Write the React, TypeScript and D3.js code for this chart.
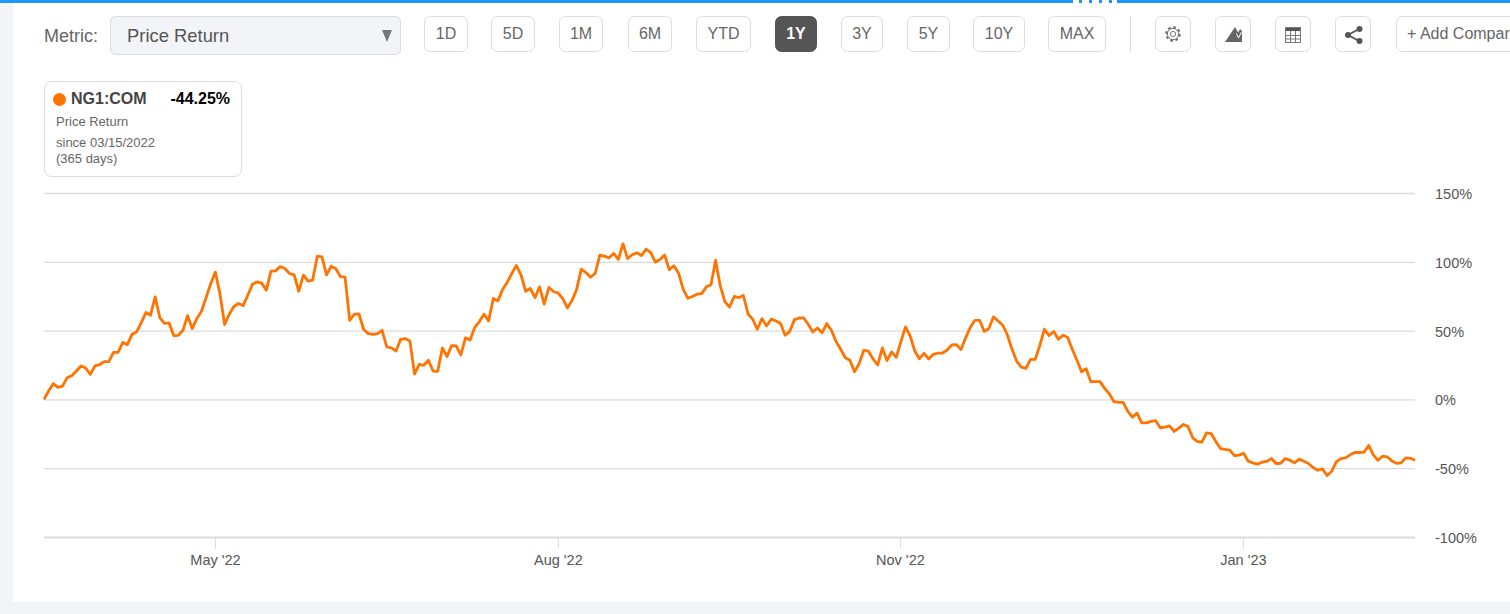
import { useEffect, useRef } from "react";
import * as d3 from "d3";

// Values, in percent, one per plotted point
const priceReturn = [
    0, 6.1, 11.4, 8.7, 9.7, 15.8, 17.2, 20.6, 24.3, 22.8, 18.2, 24.3, 25.2, 27.4, 27.4, 34.2, 34.2, 41.3, 39.8, 47.3,
    49.0, 55.8, 63.1, 61.2, 74.5, 59.5, 55.3, 55.6, 46.4, 46.6, 50.2, 60.9, 51.5, 58.7, 64.1, 74.0, 84.2, 92.5, 76.5, 54.4,
    61.9, 67.5, 69.7, 68.2, 75.7, 83.7, 85.4, 84.5, 79.4, 93.2, 93.4, 96.6, 95.1, 91.5, 90.5, 78.6, 90.3, 85.9, 86.7, 104.1,
    103.6, 90.5, 96.8, 94.9, 89.3, 88.8, 57.5, 61.9, 62.1, 51.0, 47.8, 47.3, 47.8,
    50.2, 38.1, 37.4, 35.2, 43.7, 44.2, 42.5, 18.4, 25.5, 24.8, 28.4, 20.6, 20.4, 37.4, 31.1, 39.1, 38.8, 32.3, 44.7, 43.2,
    52.4, 56.6, 61.9, 57.0, 73.3, 71.6, 79.9, 85.0, 91.5, 97.3, 90.3, 78.6, 80.6, 74.0, 81.8, 69.2, 81.3, 78.4, 77.2, 73.3,
    66.5, 71.8, 80.1, 94.7, 92.2, 88.8, 91.5, 104.9, 104.1, 102.9, 106.1, 101.7, 113.1, 102.4, 105.1, 106.6, 104.6, 109.2,
    106.6, 99.8, 101.7, 104.9, 94.2, 97.1, 91.7, 80.1, 73.5, 74.8, 76.5, 76.9, 81.8, 83.3, 101.2,
    82.5, 71.1, 67.0, 74.8, 74.0, 75.5, 62.1, 58.3, 51.0, 58.7, 53.4, 58.3, 57.0, 55.3, 46.6, 49.3, 57.8, 59.2, 59.2, 54.6,
    49.0, 51.9, 48.5, 55.1, 50.2, 42.2, 36.4, 30.3, 28.4, 20.1, 26.2, 35.7, 35.0, 29.4, 25.0, 37.4, 28.2, 34.5, 30.6, 42.0,
    52.7, 46.1, 35.2, 29.6, 33.5, 29.4, 32.8, 33.7, 33.7, 35.9, 39.6, 39.8, 36.2, 44.9, 52.4, 57.5, 57.5, 49.3, 51.5, 60.0,
    57.0, 53.9, 46.8, 36.4, 27.7, 23.5, 22.6, 29.1, 29.1, 39.3, 51.0, 46.4, 49.3, 43.7, 46.6, 45.2,
    36.4, 28.6, 20.1, 22.3, 12.9, 12.9, 12.9, 8.0, 4.1, -1.7, -2.2, -2.2, -8.7, -12.9, -10.0, -17.0, -17.0, -16.0, -15.5,
    -20.6, -20.1, -19.2, -23.3, -20.9, -18.2, -19.7, -27.9, -30.6, -31.1, -24.3, -24.8, -30.6, -35.7, -36.4, -36.9, -40.8,
    -40.5, -39.1, -44.9, -46.1, -47.1, -45.6, -45.1, -43.0, -46.6, -46.4, -43.0, -44.2, -46.1, -43.4, -44.9, -46.6, -49.5,
    -51.5, -50.5, -55.3, -52.4, -45.4, -43.0, -42.5, -40.3, -38.6, -38.6, -38.3, -33.5, -40.3, -44.2, -41.3, -41.7, -44.7,
    -46.4, -46.1, -42.5, -42.7, -44.25,
];

const xTickLabels = ["May '22", "Aug '22", "Nov '22", "Jan '23"];
const xTickFractions = [0.1247, 0.3748, 0.6243, 0.8745];
const yTicks = [150, 100, 50, 0, -50, -100];

const periods = ["1D", "5D", "1M", "6M", "YTD", "1Y", "3Y", "5Y", "10Y", "MAX"];
const activePeriod = "1Y";

// Toolbar layout, left edge and right edge of each button
const periodEdges: [number, number][] = [
    [424, 468], [491, 535], [559, 603], [628, 672], [696, 751],
    [775, 817], [841, 883], [907, 950], [973, 1025], [1048, 1106],
];
const iconEdges = [1155, 1215, 1275, 1335];

const FONT = "'Liberation Sans', Arial, sans-serif";
const ORANGE = "#ff7300";
const BLUE = "#1e96fc";
const GRID = "#dcdcdc";
const TEXT = "#555555";
const WIDTH = 1510;
const HEIGHT = 614;

export default function App() {
    const svgRef = useRef<SVGSVGElement | null>(null);

    useEffect(() => {
        if (!svgRef.current) return;

        const svg = d3.select(svgRef.current);
        svg.selectAll("*").remove();

        const left = 44;
        const right = 1415;
        const top = 193;
        const bottom = 537;

        const x = d3.scaleLinear().domain([0, priceReturn.length - 1]).range([left, right]);
        const y = d3.scaleLinear().domain([-100, 150]).range([bottom, top]);

        // Page background and panel
        svg.append("rect").attr("width", WIDTH).attr("height", HEIGHT).attr("fill", "#f2f4f8");
        svg.append("rect").attr("x", 13).attr("y", 3).attr("width", WIDTH - 13).attr("height", 599).attr("fill", "#fff");

        // Blue bar at the very top, with the little dashed handle
        svg.append("rect").attr("width", 1073).attr("height", 3).attr("fill", BLUE);
        svg.append("rect").attr("x", 1117).attr("width", WIDTH - 1117).attr("height", 3).attr("fill", BLUE);
        svg.append("rect").attr("x", 1073).attr("width", 44).attr("height", 3).attr("fill", "#fff");
        svg.append("line")
            .attr("x1", 1079).attr("x2", 1115).attr("y1", 1.5).attr("y2", 1.5)
            .attr("stroke", BLUE).attr("stroke-width", 3).attr("stroke-dasharray", "3 7");

        // Metric select
        svg.append("text").attr("x", 44).attr("y", 42).attr("font-size", 18).attr("fill", "#666").attr("font-family", FONT).text("Metric:");
        svg.append("rect").attr("x", 110.5).attr("y", 16.5).attr("width", 290).attr("height", 38).attr("rx", 5)
            .attr("fill", "#f2f4f8").attr("stroke", "#dcdcdc");
        svg.append("text").attr("x", 127).attr("y", 42).attr("font-size", 18.4).attr("fill", TEXT).attr("font-family", FONT).text("Price Return");
        svg.append("path").attr("d", "M382 30H392L387 42Z").attr("fill", "#777");

        // Period buttons
        const buttons = svg.append("g").selectAll("g").data(periods).join("g");
        buttons.append("rect")
            .attr("x", (_, i) => periodEdges[i][0] + 0.5)
            .attr("y", 16.5)
            .attr("width", (_, i) => periodEdges[i][1] - periodEdges[i][0] - 1)
            .attr("height", 35)
            .attr("rx", 6)
            .attr("fill", (d) => (d === activePeriod ? "#555" : "#fff"))
            .attr("stroke", (d) => (d === activePeriod ? "#555" : "#dcdcdc"));
        buttons.append("text")
            .attr("x", (_, i) => (periodEdges[i][0] + periodEdges[i][1]) / 2)
            .attr("y", 39)
            .attr("text-anchor", "middle")
            .attr("font-size", 16)
            .attr("font-family", FONT)
            .attr("font-weight", (d) => (d === activePeriod ? 700 : 400))
            .attr("fill", (d) => (d === activePeriod ? "#fff" : "#666"))
            .text((d) => d);

        svg.append("line").attr("x1", 1130.5).attr("x2", 1130.5).attr("y1", 16).attr("y2", 52).attr("stroke", "#dcdcdc");

        // Icon buttons
        svg.append("g").selectAll("rect").data(iconEdges).join("rect")
            .attr("x", (d) => d + 0.5).attr("y", 16.5).attr("width", 35).attr("height", 35).attr("rx", 6)
            .attr("fill", "#fff").attr("stroke", "#dcdcdc");

        // Gear
        const gear = svg.append("g").attr("transform", "translate(1173,34)").attr("fill", "none").attr("stroke", "#666");
        gear.append("circle").attr("r", 2.6).attr("stroke-width", 0.9);
        gear.append("circle").attr("r", 5.6).attr("stroke-width", 0.9);
        gear.append("circle").attr("r", 6.8).attr("stroke-width", 1.8).attr("stroke-dasharray", "2.7 2.64");

        // Area chart icon
        svg.append("path").attr("d", "M1225 42L1235 27L1240 36L1242 33V42Z").attr("fill", "#666");
        svg.append("path").attr("d", "M1233 42L1240 29L1242 31V42Z").attr("fill", "#666");
        svg.append("path").attr("d", "M1236.5 33.5L1238.5 38L1241.5 32").attr("fill", "none").attr("stroke", "#fff").attr("stroke-width", 1);

        // Table icon
        const table = svg.append("g").attr("transform", "translate(1285,27)");
        table.append("rect").attr("width", 16).attr("height", 4).attr("fill", "#555");
        table.append("rect").attr("x", 0.5).attr("y", 0.5).attr("width", 15).attr("height", 15).attr("fill", "none").attr("stroke", "#777");
        table.append("path").attr("d", "M5.5 4V16M10.5 4V16M0 8.5H16M0 12H16").attr("stroke", "#777").attr("fill", "none");

        // Share icon
        const share = svg.append("g").attr("transform", "translate(1345,26)").attr("fill", "#555");
        share.append("path").attr("d", "M14 3L3 9L14 15").attr("fill", "none").attr("stroke", "#555").attr("stroke-width", 1.8);
        share.append("circle").attr("cx", 14.5).attr("cy", 3).attr("r", 3);
        share.append("circle").attr("cx", 3).attr("cy", 9).attr("r", 3);
        share.append("circle").attr("cx", 14.5).attr("cy", 15).attr("r", 3);

        // Add comparison button runs off the page
        svg.append("rect").attr("x", 1396.5).attr("y", 16.5).attr("width", 160).attr("height", 35).attr("rx", 6)
            .attr("fill", "#fff").attr("stroke", "#dcdcdc");
        svg.append("text").attr("x", 1407).attr("y", 39).attr("font-size", 16).attr("fill", "#666").attr("font-family", FONT).text("+ Add Comparison");

        // Legend card
        const last = priceReturn[priceReturn.length - 1];
        svg.append("rect").attr("x", 44.5).attr("y", 81.5).attr("width", 197).attr("height", 95).attr("rx", 7)
            .attr("fill", "#fff").attr("stroke", "#dcdcdc");
        svg.append("circle").attr("cx", 59.5).attr("cy", 99.5).attr("r", 6.5).attr("fill", ORANGE);
        svg.append("text").attr("x", 71).attr("y", 103.5).attr("font-size", 16).attr("font-weight", 700).attr("fill", "#444").attr("font-family", FONT).text("NG1:COM");
        svg.append("text").attr("x", 230).attr("y", 103.5).attr("text-anchor", "end").attr("font-size", 16).attr("font-weight", 700).attr("fill", "#000").attr("font-family", FONT).text(`${last.toFixed(2)}%`);
        svg.append("text").attr("x", 56).attr("y", 126).attr("font-size", 13).attr("fill", "#666").attr("font-family", FONT).text("Price Return");
        svg.append("text").attr("x", 56).attr("y", 147).attr("font-size", 13).attr("fill", "#666").attr("font-family", FONT).text("since 03/15/2022");
        svg.append("text").attr("x", 56).attr("y", 163).attr("font-size", 13).attr("fill", "#666").attr("font-family", FONT).text("(365 days)");

        // Y axis, gridlines are the ticks pulled across the plot
        const yAxis = svg.append("g")
            .attr("transform", `translate(${right},0)`)
            .call(
                d3.axisLeft(y)
                    .tickValues(yTicks)
                    .tickSize(right - left)
                    .tickFormat((d) => `${d}%`)
            );
        yAxis.select(".domain").remove();
        yAxis.selectAll("line").attr("stroke", GRID).attr("stroke-width", (d) => (d === -100 ? 2 : 1.3));
        yAxis.selectAll("text")
            .attr("x", 20)
            .attr("dy", "0.38em")
            .attr("text-anchor", "start")
            .attr("font-size", 14.5)
            .attr("font-family", FONT)
            .attr("fill", TEXT);

        // X axis, the source spaces its ticks by position and not by date
        const tickPositions = xTickFractions.map((f) => f * (priceReturn.length - 1));
        const xAxis = svg.append("g")
            .attr("transform", `translate(0,${bottom})`)
            .call(
                d3.axisBottom(x)
                    .tickValues(tickPositions)
                    .tickSize(12)
                    .tickPadding(6)
                    .tickFormat((_, i) => xTickLabels[i])
            );
        xAxis.select(".domain").remove();
        xAxis.selectAll("line").attr("stroke", GRID);
        xAxis.selectAll("text")
            .attr("font-size", 14.5)
            .attr("font-family", FONT)
            .attr("fill", TEXT);

        // Price line
        const line = d3.line<number>().x((_, i) => x(i)).y((d) => y(d));
        svg.append("path")
            .datum(priceReturn)
            .attr("d", line)
            .attr("fill", "none")
            .attr("stroke", ORANGE)
            .attr("stroke-width", 2.8)
            .attr("stroke-linejoin", "round");
    }, []);

    return (
        <svg
            ref={svgRef}
            width={WIDTH}
            height={HEIGHT}
            style={{ position: "fixed", left: 0, top: 0, display: "block" }}
        />
    );
}
